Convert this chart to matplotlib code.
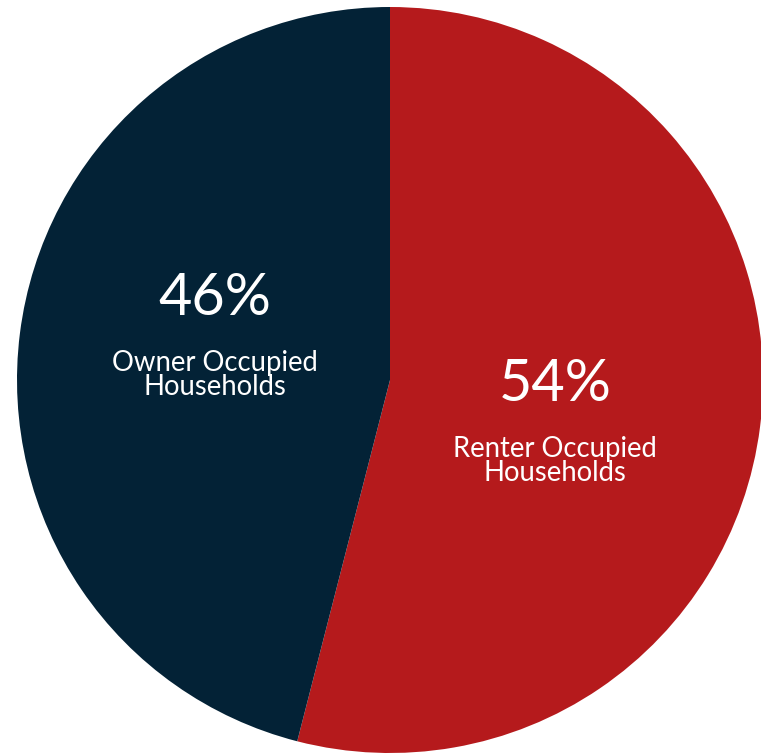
import matplotlib.pyplot as plt

labels = ['Renter Occupied\nHouseholds', 'Owner Occupied\nHouseholds']
shares = [54, 46]
colors = ['#B51A1C', '#032236']

fig = plt.figure(figsize=(7.61, 7.55), dpi=100)
ax = fig.add_axes([17 / 761, 2 / 755, 746 / 761, 746 / 755])
ax.pie(shares, colors=colors, startangle=90, counterclock=False, radius=1,
       wedgeprops=dict(linewidth=0))
ax.set_xlim(-1, 1)
ax.set_ylim(-1, 1)
ax.set_aspect('equal')
ax.axis('off')

# label positions (data coords, fraction of radius)
pos = [(0.443, -0.012), (-0.469, 0.218)]
for (x, y), share, lab in zip(pos, shares, labels):
    ax.text(x, y, f'{share}%', color='white', fontsize=41.5, family='Lato',
            ha='center', va='center')
    ax.text(x, y - 0.205, lab, color='white', fontsize=19.8, family='Lato',
            ha='center', va='center', linespacing=0.88)

fig.savefig('out.png', dpi=100, facecolor='white')
